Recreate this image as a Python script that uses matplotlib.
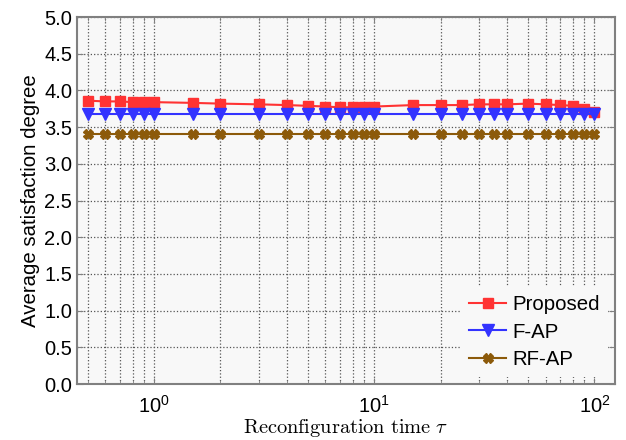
import numpy as np
import matplotlib
matplotlib.use("Agg")
import matplotlib.pyplot as plt

plt.rcParams['font.family'] = ['Liberation Sans', 'DejaVu Sans']
plt.rcParams['mathtext.fontset'] = 'cm'

# reconfiguration time tau
tau = [0.5, 0.6, 0.7, 0.8, 0.9, 1, 1.5, 2, 3, 4, 5, 6, 7, 8, 9, 10,
       15, 20, 25, 30, 35, 40, 50, 60, 70, 80, 90, 100]

proposed = [3.86, 3.85, 3.85, 3.84, 3.84, 3.84, 3.83, 3.82, 3.81, 3.80, 3.79, 3.78, 3.77, 3.77, 3.78, 3.78,
            3.80, 3.80, 3.80, 3.81, 3.81, 3.81, 3.82, 3.81, 3.80, 3.79, 3.75, 3.70]
f_ap = [3.68] * len(tau)
rf_ap = [3.41] * len(tau)

fig = plt.figure(figsize=(6.26, 4.40), dpi=100)
ax = fig.add_axes([77/626, 1 - 384/440, (615-77)/626, (384-17)/440])
ax.set_facecolor('#f8f8f8')

ax.plot(tau, proposed, color='#ff3333', marker='s', markersize=7, linewidth=1.5, label='Proposed')
ax.plot(tau, f_ap, color='#3333ff', marker='v', markersize=8, linewidth=1.5, label='F-AP')
ax.plot(tau, rf_ap, color='#8c5a0a', marker='X', markersize=7, linewidth=1.5, label='RF-AP')

ax.set_xscale('log')
ax.set_xlim(0.447, 124)
ax.set_ylim(0, 5)
ax.set_yticks(np.arange(0, 5.01, 0.5))
ax.set_yticklabels(['%.1f' % v for v in np.arange(0, 5.01, 0.5)])

ax.grid(True, which='major', linestyle=':', color='#555555', linewidth=0.9)
ax.grid(True, which='minor', axis='x', linestyle=':', color='#555555', linewidth=0.9)

ax.tick_params(which='both', direction='in', top=True, right=True, labelsize=14.5, color='#808080')
ax.tick_params(which='major', length=4)
ax.tick_params(which='minor', length=3)
ax.tick_params(axis='x', which='both', pad=8)
for s in ax.spines.values():
    s.set_color('#808080')
    s.set_linewidth(1.5)

ax.set_ylabel('Average satisfaction degree', fontsize=14.7, labelpad=3)
ax.set_xlabel(r'$\mathrm{Reconfiguration\ time}\ \tau$', fontsize=14.7, labelpad=0)

leg = ax.legend(loc='lower right', fontsize=14.7, frameon=True, fancybox=False,
                handlelength=1.8, borderaxespad=0.35, labelspacing=0.4, handletextpad=0.3)
leg.get_frame().set_facecolor('#f8f8f8')
leg.get_frame().set_edgecolor('none')
leg.get_frame().set_alpha(1)

fig.savefig('out.png', dpi=100)
